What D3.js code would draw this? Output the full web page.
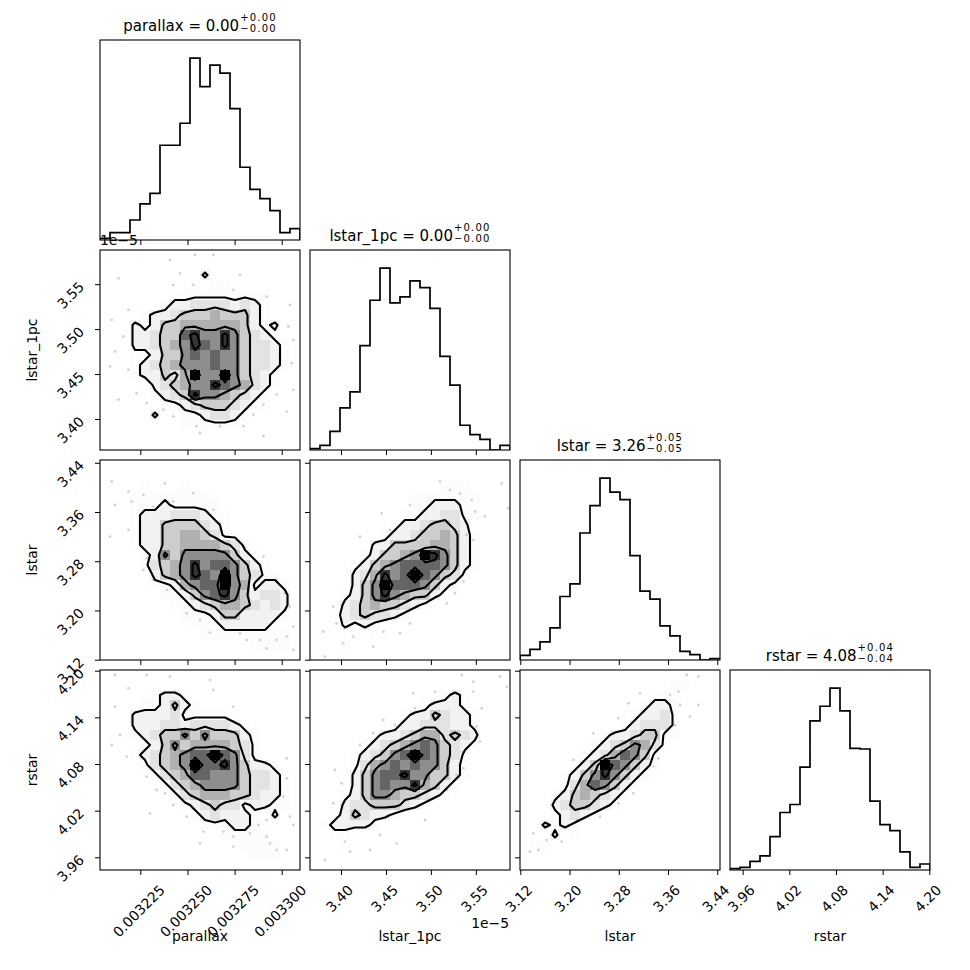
<!DOCTYPE html>
<html>
<head>
<meta charset="utf-8">
<script src="https://cdn.jsdelivr.net/npm/d3@7"></script>
<style>
  body { margin: 0; background: #fff; }
  text { font-family: "DejaVu Sans", sans-serif; fill: #000; }
</style>
</head>
<body>
<svg id="chart" width="970" height="970"></svg>
<script>
// ---- data ----
var labels = ["parallax", "lstar_1pc", "lstar", "rstar"];
var ranges = [[0.0032036, 0.0033097], [3.3655e-5, 3.588e-5], [3.1195, 3.4445], [3.9437, 4.2009]];
var tickValues = [
  [0.003225, 0.00325, 0.003275, 0.0033],
  [3.40e-5, 3.45e-5, 3.50e-5, 3.55e-5],
  [3.12, 3.20, 3.28, 3.36, 3.44],
  [3.96, 4.02, 4.08, 4.14, 4.20]
];
var titleValues = ["0.00", "0.00", "3.26", "4.08"];
var titleUp = ["0.00", "0.00", "0.05", "0.04"];
var titleDown = ["0.00", "0.00", "0.05", "0.04"];

// 1D histograms, 20 bins over each axis range
var hist_parallax = [5, 22, 22, 60, 108, 140, 284, 284, 350, 545, 460, 524, 500, 394, 218, 152, 124, 88, 22, 34];
var hist_lstar1pc = [4, 14, 56, 126, 174, 312, 448, 544, 440, 458, 506, 486, 424, 280, 194, 74, 46, 32, 0, 14];
var hist_lstar = [14, 32, 54, 96, 190, 228, 380, 462, 544, 502, 480, 312, 206, 182, 102, 72, 26, 16, 0, 4];
var hist_rstar = [4, 8, 26, 42, 100, 172, 196, 308, 446, 490, 544, 476, 364, 362, 206, 136, 118, 54, 8, 18];

// 2D histograms, 20x20 bins, rows from the top (high y) down, one digit per bin
var grid_lstar1pc_parallax = [
  "00000000000000000000", "00000000000000000000", "00000000002000000000", "00000000010110000000",
  "00000001111111111000", "00000012233332321000", "00001223444544421000", "00021244555555421200",
  "00022344786686432100", "00022345687686433210", "00011244676766433210", "00012345666766433210",
  "00012243596696432100", "00000234566876532100", "00000123486654321000", "00000011234443211000",
  "00000200112332100000", "00000000111111000000", "00000000000000000000", "00000000000000000000"
];
var grid_lstar_parallax = [
  "00000000000000000000", "00000000000000000000", "00001000100000000000", "00011111111000000000",
  "00011121111100000000", "00012223332110000000", "00012244443210000000", "00012244554311000000",
  "00012244555543100000", "00001264666664210000", "00001345686776421000", "00000245687696431100",
  "00000112567796512210", "00000011246786423320", "00000001123455432320", "00000000111244222210",
  "00000000011122222100", "00000000001111111110", "00000000000000011110", "00000000000000000000"
];
var grid_lstar_lstar1pc = [
  "00000000000000000000", "00000000000000000000", "00000000000001110000", "00000000001111111000",
  "00000000001122211000", "00000000011223311000", "00000000122344320000", "00000001223445421000",
  "00000022444455421000", "00000124456986421000", "00001245677776421000", "00002358679764310000",
  "00002469777642100000", "00012468654421000000", "00023454432100000000", "00123433210000000000",
  "00021210000000000000", "00001010000000000000", "00010000000000000000", "00000000000000000000"
];
var grid_rstar_parallax = [
  "00000000000000000000", "00000000000000000000", "00000122100000000000", "00001124210000000000",
  "00022223111110000000", "00022233233332100000", "00012344646444210000", "00001246455554310000",
  "00012345677976310000", "00001345697786422100", "00000134577666433210", "00000013456666433210",
  "00000001345554432210", "00000000123433122110", "00000000012322210200", "00000000001112210000",
  "00000000000011111000", "00000000000000111100", "00000000000000011100", "00000000000000000000"
];
var grid_rstar_lstar1pc = [
  "00000000000000000000", "00000000000000000000", "00000000000001210000", "00000000000122210000",
  "00000000012243221000", "00000000122333221000", "00000012234553432000", "00000123456764321000",
  "00001234679764310000", "00001356767664210000", "00002467786644210000", "00002467668542100000",
  "00012466544321000000", "00023344432100000000", "00124322100000000000", "01222210000000000000",
  "00110000000000000000", "00010000000000000000", "00000000000000000000", "00000000000000000000"
];
var grid_rstar_lstar = [
  "00000000000000000000", "00000000000000011000", "00000000000001100000", "00000000000012210000",
  "00000000000122310000", "00000000001233310000", "00000000122344110000", "00000001234653100000",
  "00000012357641000000", "00000124976421000000", "00001246864210000000", "00001357642100000000",
  "00012454321000000000", "00023443210000000000", "00012321000000000000", "00212100000000000000",
  "00020100000000000000", "01100000000000000000", "00000000000000000000", "00000000000000000000"
];

// samples lying outside the outer contour
var pts_lstar1pc_parallax = [
  [0.0032134, 3.5565e-5], [0.0032187, 3.5214e-5], [0.0032407, 3.5770e-5], [0.0032460, 3.5621e-5],
  [0.0032540, 3.5825e-5], [0.0032638, 3.5825e-5], [0.0032425, 3.5492e-5], [0.0032531, 3.5492e-5],
  [0.0032744, 3.5436e-5], [0.0032779, 3.5603e-5], [0.0032920, 3.5362e-5], [0.0033044, 3.5269e-5],
  [0.0033035, 3.5029e-5], [0.0033062, 3.4881e-5], [0.0033053, 3.4621e-5], [0.0033062, 3.4325e-5],
  [0.0033026, 3.4083e-5], [0.0032973, 3.4270e-5], [0.0032903, 3.4159e-5], [0.0032850, 3.4048e-5],
  [0.0032797, 3.3919e-5], [0.0032673, 3.3919e-5], [0.0032548, 3.3919e-5], [0.0032425, 3.4030e-5],
  [0.0032372, 3.4103e-5], [0.0032283, 3.4177e-5], [0.0032230, 3.4288e-5], [0.0032187, 3.4548e-5],
  [0.0032116, 3.4752e-5], [0.0032098, 3.5103e-5], [0.0032160, 3.4919e-5], [0.0032134, 3.4214e-5],
  [0.0032566, 3.3844e-5], [0.0032903, 3.3808e-5], [0.0032089, 3.4585e-5]
];
var pts_lstar_parallax = [
  [0.0032098, 3.4094], [0.0032116, 3.3714], [0.0032187, 3.3931], [0.0032204, 3.3769], [0.0032266, 3.3876],
  [0.0032319, 3.3688], [0.0032381, 3.4065], [0.0032425, 3.3769], [0.0032531, 3.3903], [0.0032638, 3.3633],
  [0.0032673, 3.3415], [0.0032805, 3.3038], [0.0032903, 3.2875], [0.0032973, 3.2495], [0.0033017, 3.2278],
  [0.0033044, 3.2063], [0.0033062, 3.1738], [0.0033026, 3.1575], [0.0032973, 3.1520], [0.0032920, 3.1384],
  [0.0032885, 3.1520], [0.0032814, 3.1520], [0.0032779, 3.1628], [0.0032620, 3.1640], [0.0032566, 3.1845],
  [0.0032496, 3.1952], [0.0032390, 3.2333], [0.0032319, 3.2495], [0.0032266, 3.2658], [0.0032283, 3.2846],
  [0.0032089, 3.3200], [0.0032187, 3.3308], [0.0033062, 3.1358]
];
var pts_lstar_lstar1pc = [
  [3.3915e-5, 3.2063], [3.3951e-5, 3.1790], [3.4026e-5, 3.1465], [3.3804e-5, 3.1656], [3.4211e-5, 3.3200],
  [3.4452e-5, 3.3578], [3.4545e-5, 3.3308], [3.4768e-5, 3.3714], [3.4934e-5, 3.3633], [3.5101e-5, 3.4094],
  [3.5213e-5, 3.3958], [3.5324e-5, 3.3903], [3.5453e-5, 3.3795], [3.5491e-5, 3.3606], [3.5602e-5, 3.3525],
  [3.5787e-5, 3.4065], [3.5862e-5, 3.3659], [3.5473e-5, 3.3145], [3.5398e-5, 3.3226], [3.5362e-5, 3.2469],
  [3.5268e-5, 3.2278], [3.5175e-5, 3.2115], [3.4768e-5, 3.1790], [3.4656e-5, 3.1628], [3.4472e-5, 3.1656],
  [3.4360e-5, 3.1413], [3.4138e-5, 3.1575], [3.3822e-5, 3.1250]
];
var pts_rstar_parallax = [
  [0.0032116, 4.1945], [0.0032283, 4.1945], [0.0032407, 4.1924], [0.0032620, 4.1880], [0.0032638, 4.1752],
  [0.0032744, 4.1538], [0.0032187, 4.1773], [0.0032116, 4.1538], [0.0032098, 4.1045], [0.0032142, 4.1173],
  [0.0032177, 4.0895], [0.0032283, 4.0638], [0.0032336, 4.0466], [0.0032381, 4.0422], [0.0032425, 4.0273],
  [0.0032496, 4.0124], [0.0032585, 3.9931], [0.0032691, 3.9931], [0.0032744, 3.9866], [0.0032832, 3.9908],
  [0.0032876, 4.0016], [0.0032920, 4.0080], [0.0033009, 4.0381], [0.0033026, 4.0615], [0.0033026, 4.0872],
  [0.0033044, 4.0124], [0.0033062, 4.0016], [0.0032920, 3.9866], [0.0032973, 3.9694], [0.0033026, 3.9694],
  [0.0032938, 3.9779], [0.0032744, 3.9738], [0.0032301, 4.0165], [0.0032566, 3.9779]
];
var pts_rstar_lstar1pc = [
  [3.3822e-5, 3.9566], [3.3915e-5, 4.0294], [3.4044e-5, 3.9802], [3.4100e-5, 3.9674], [3.4323e-5, 3.9694],
  [3.4434e-5, 3.9887], [3.4618e-5, 3.9779], [3.4007e-5, 4.0551], [3.4211e-5, 4.1045], [3.4360e-5, 4.1194],
  [3.4471e-5, 4.1366], [3.4601e-5, 4.1302], [3.4805e-5, 4.1708], [3.4823e-5, 4.1516], [3.5046e-5, 4.1731],
  [3.5342e-5, 4.1945], [3.5473e-5, 4.1859], [3.5473e-5, 4.1731], [3.5565e-5, 4.1516], [3.5769e-5, 4.1924],
  [3.5843e-5, 4.1795], [3.5509e-5, 4.1281], [3.5546e-5, 4.1088], [3.5342e-5, 4.0960], [3.5362e-5, 4.0744],
  [3.5286e-5, 4.0659], [3.5175e-5, 4.0466], [3.4934e-5, 4.0080], [3.3933e-5, 4.0723]
];
var pts_rstar_lstar = [
  [3.1358, 3.9674], [3.1494, 3.9694], [3.1413, 3.9908], [3.1628, 3.9823], [3.1871, 3.9802],
  [3.1790, 4.0188], [3.2115, 4.0080], [3.2388, 4.1194], [3.3145, 4.1708], [3.3633, 4.1688],
  [3.3769, 4.1731], [3.3903, 4.1945], [3.4094, 4.1924], [3.3795, 4.1559], [3.3958, 4.1410],
  [3.4094, 4.1559], [3.3714, 4.1302], [3.3444, 4.0872], [3.3363, 4.0767], [3.3038, 4.0422],
  [3.2794, 4.0294], [3.2495, 4.0124], [3.2794, 4.1387], [3.2956, 4.1580], [3.2170, 4.0615],
  [3.2063, 4.0852]
];

var contourLevels = [1.5, 3.5, 5.5, 7.5];
var nBins = 20;

// ---- layout ----
var size = 200, gap = 10, left0 = 100, top0 = 40;
var svg = d3.select("#chart");

function panelX(c) { return left0 + c * (size + gap); }
function panelY(r) { return top0 + r * (size + gap); }

var xScales = ranges.map(function (r, i) {
  return d3.scaleLinear().domain(r).range([panelX(i), panelX(i) + size]);
});
var yScales = ranges.map(function (r, i) {
  return d3.scaleLinear().domain(r).range([panelY(i) + size, panelY(i)]);
});

var tickFormats = [
  d3.format(".6f"),
  function (v) { return (v * 1e5).toFixed(2); },
  d3.format(".2f"),
  d3.format(".2f")
];

var hists = [hist_parallax, hist_lstar1pc, hist_lstar, hist_rstar];
var panels2d = [
  { row: 1, col: 0, grid: grid_lstar1pc_parallax, pts: pts_lstar1pc_parallax },
  { row: 2, col: 0, grid: grid_lstar_parallax, pts: pts_lstar_parallax },
  { row: 2, col: 1, grid: grid_lstar_lstar1pc, pts: pts_lstar_lstar1pc },
  { row: 3, col: 0, grid: grid_rstar_parallax, pts: pts_rstar_parallax },
  { row: 3, col: 1, grid: grid_rstar_lstar1pc, pts: pts_rstar_lstar1pc },
  { row: 3, col: 2, grid: grid_rstar_lstar, pts: pts_rstar_lstar }
];

var defs = svg.append("defs");
function clipFor(r, c) {
  var id = "clip-" + r + "-" + c;
  defs.append("clipPath").attr("id", id).append("rect")
    .attr("x", panelX(c)).attr("y", panelY(r)).attr("width", size).attr("height", size);
  return "url(#" + id + ")";
}

// ---- diagonal histograms ----
hists.forEach(function (counts, i) {
  var xs = xScales[i];
  var dom = ranges[i], bw = (dom[1] - dom[0]) / nBins;
  var ys = d3.scaleLinear().domain([0, 1.1 * d3.max(counts)]).range([panelY(i) + size, panelY(i)]);
  var pts = [[dom[0], 0]];
  counts.forEach(function (c, k) {
    pts.push([dom[0] + k * bw, c]);
    pts.push([dom[0] + (k + 1) * bw, c]);
  });
  pts.push([dom[1], 0]);
  var line = d3.line().x(function (d) { return xs(d[0]); }).y(function (d) { return ys(d[1]); });
  svg.append("path").datum(pts)
    .attr("clip-path", clipFor(i, i))
    .attr("d", line)
    .attr("fill", "none").attr("stroke", "#000").attr("stroke-width", 1.7);
});

// ---- 2D panels ----
var contourGen = d3.contours().size([nBins, nBins]).thresholds(contourLevels);

panels2d.forEach(function (p) {
  var xs = xScales[p.col], ys = yScales[p.row];
  var xr = ranges[p.col], yr = ranges[p.row];
  var bx = (xr[1] - xr[0]) / nBins, by = (yr[1] - yr[0]) / nBins;
  var values = [];
  p.grid.forEach(function (rowStr) {
    rowStr.split("").forEach(function (ch) { values.push(+ch); });
  });
  var vmax = d3.max(values);
  var g = svg.append("g").attr("clip-path", clipFor(p.row, p.col));

  g.selectAll("circle").data(p.pts).join("circle")
    .attr("cx", function (d) { return xs(d[0]); })
    .attr("cy", function (d) { return ys(d[1]); })
    .attr("r", 1.4)
    .attr("fill", "#000").attr("fill-opacity", 0.18);

  var cells = [];
  values.forEach(function (v, k) {
    if (v > 0) cells.push({ col: k % nBins, row: Math.floor(k / nBins), v: v });
  });
  g.selectAll("rect.cell").data(cells).join("rect")
    .attr("class", "cell")
    .attr("x", function (d) { return xs(xr[0] + d.col * bx); })
    .attr("y", function (d) { return ys(yr[1] - d.row * by); })
    .attr("width", function (d) { return xs(xr[0] + (d.col + 1) * bx) - xs(xr[0] + d.col * bx); })
    .attr("height", function (d) { return ys(yr[1] - (d.row + 1) * by) - ys(yr[1] - d.row * by); })
    .attr("fill", function (d) { var t = d.v / vmax, c = Math.round(255 * (1 - t)); return d3.rgb(c, c, c); })
    .attr("fill-opacity", function (d) { return d.v / vmax; })
    .attr("shape-rendering", "crispEdges");

  // grid coordinates -> data -> pixels
  var toPixels = d3.geoTransform({
    point: function (gx, gy) { this.stream.point(xs(xr[0] + gx * bx), ys(yr[1] - gy * by)); }
  });
  var path = d3.geoPath(toPixels);
  g.selectAll("path.ct").data(contourGen(values)).join("path")
    .attr("class", "ct")
    .attr("d", path)
    .attr("fill", "none").attr("stroke", "#000").attr("stroke-width", 2.1)
    .attr("stroke-linejoin", "round");
});

// ---- frames, ticks, labels ----
for (var r = 0; r < 4; r++) {
  for (var c = 0; c <= r; c++) {
    var x0 = panelX(c), y0 = panelY(r);
    var xAxis = d3.axisBottom(xScales[c]).tickValues(tickValues[c]).tickSize(5).tickFormat("");
    svg.append("g").attr("transform", "translate(0," + (y0 + size) + ")").call(xAxis)
      .call(function (g) { g.select(".domain").remove(); });
    if (c !== r) {
      var yAxis = d3.axisLeft(yScales[r]).tickValues(tickValues[r]).tickSize(5).tickFormat("");
      svg.append("g").attr("transform", "translate(" + x0 + ",0)").call(yAxis)
        .call(function (g) { g.select(".domain").remove(); });
    }
    svg.append("rect").attr("x", x0).attr("y", y0).attr("width", size).attr("height", size)
      .attr("fill", "none").attr("stroke", "#000").attr("stroke-width", 1.1);
  }
}

// bottom row tick labels
var bottom = panelY(3) + size;
labels.forEach(function (name, c) {
  tickValues[c].forEach(function (v) {
    var t = svg.append("text").attr("font-size", 13.9).attr("text-anchor", "middle")
      .attr("dominant-baseline", "central").text(tickFormats[c](v));
    var w = t.node().getComputedTextLength();
    var cx = xScales[c](v) - 1.5, cy = bottom + 14 + (w + 10) / 2.83;
    t.attr("x", cx).attr("y", cy).attr("transform", "rotate(-45," + cx + "," + cy + ")");
  });
  svg.append("text").attr("x", panelX(c) + size / 2).attr("y", bottom + 71)
    .attr("font-size", 13.9).attr("text-anchor", "middle").text(name);
});

// left column tick labels
[1, 2, 3].forEach(function (r) {
  tickValues[r].forEach(function (v) {
    var t = svg.append("text").attr("font-size", 13.9).attr("text-anchor", "middle")
      .attr("dominant-baseline", "central").text(tickFormats[r](v));
    var w = t.node().getComputedTextLength();
    var cx = left0 - 15 - (w + 10) / 2.83, cy = yScales[r](v) + 11;
    t.attr("x", cx).attr("y", cy).attr("transform", "rotate(-45," + cx + "," + cy + ")");
  });
  var ly = panelY(r) + size / 2;
  svg.append("text").attr("x", 37).attr("y", ly).attr("font-size", 13.9)
    .attr("text-anchor", "middle").attr("transform", "rotate(-90,37," + ly + ")").text(labels[r]);
});

// offset text for lstar_1pc
svg.append("text").attr("x", left0).attr("y", panelY(1) - 5).attr("font-size", 13.9).text("1e\u22125");
svg.append("text").attr("x", panelX(1) + size - 1).attr("y", bottom + 58).attr("font-size", 13.9)
  .attr("text-anchor", "end").text("1e\u22125");

// titles with stacked errors
labels.forEach(function (name, i) {
  var cx = panelX(i) + size / 2, top = panelY(i);
  var g = svg.append("g");
  var main = g.append("text").attr("y", top - 9).attr("font-size", 15).text(name + " = " + titleValues[i]);
  var sup = g.append("text").attr("y", top - 19).attr("font-size", 10).attr("letter-spacing", 1.2).text("+" + titleUp[i]);
  var sub = g.append("text").attr("y", top - 8.5).attr("font-size", 10).attr("letter-spacing", 1.2).text("\u2212" + titleDown[i]);
  var mw = main.node().getComputedTextLength();
  var sw = Math.max(sup.node().getComputedTextLength(), sub.node().getComputedTextLength());
  var xStart = cx - (mw + 1 + sw) / 2;
  main.attr("x", xStart);
  sup.attr("x", xStart + mw + 1);
  sub.attr("x", xStart + mw + 1);
});
</script>
</body>
</html>
